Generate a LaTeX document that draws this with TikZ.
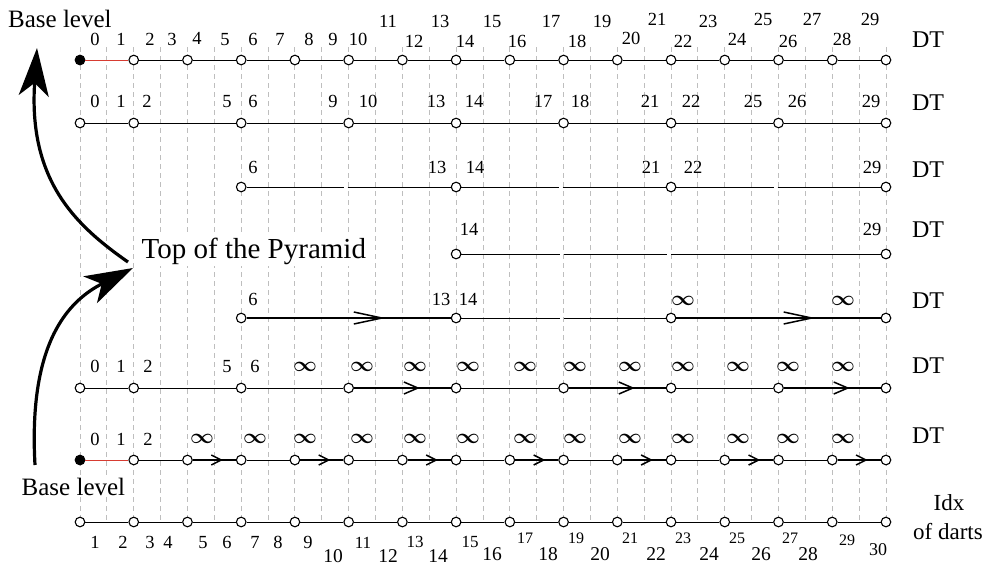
\documentclass[tikz,border=0pt]{standalone}
\usepackage{fontspec}
\setmainfont{Liberation Serif}
\usetikzlibrary{arrows.meta,decorations.markings}
\newcommand\myfs[1]{\fontsize{#1}{#1}\selectfont}
\definecolor{redl}{RGB}{215,60,50}
\definecolor{gridc}{RGB}{190,190,190}
\begin{document}
\begin{tikzpicture}[x=1pt,y=-1pt,
  gridline/.style={gridc, line width=0.9pt, dash pattern=on 5pt off 4pt},
  dot/.style={circle, draw=black, line width=1.1pt, fill=white, inner sep=0pt, minimum size=9.6pt},
  fdot/.style={dot, fill=black},
  rowline/.style={line width=0.9pt, black},
  redline/.style={line width=1pt, redl},
  thickseg/.style={draw=black, line width=2.8pt},
  arrA/.style={postaction={decorate}, decoration={markings, mark=at position 0.68 with {\arrow{Straight Barb[length=28pt,width=12pt,line width=1.5pt]}}}},
  arrB/.style={postaction={decorate}, decoration={markings, mark=at position 0.68 with {\arrow{Straight Barb[length=14pt,width=12pt,line width=1.5pt]}}}},
  arrC/.style={postaction={decorate}, decoration={markings, mark=at position 0.70 with {\arrow{Straight Barb[length=10pt,width=10pt,line width=1.5pt]}}}},
  lab/.style={anchor=base, inner sep=0pt, font=\myfs{18.5}},
  inflab/.style={anchor=base, inner sep=0pt, font=\myfs{20}\boldmath},
  dtlab/.style={anchor=base, inner sep=0pt, font=\myfs{24}},
  bigtext/.style={anchor=base west, inner sep=1.5pt, fill=white},
  bigarr/.style={line width=3.2pt, -{Stealth[length=48pt,width=30pt,inset=13pt]}}
]
\fill[white] (0,0) rectangle (987,566);
\useasboundingbox (0,0) rectangle (987,566);

% grid
\foreach \i in {0,...,30} \draw[gridline] ({80+26.865*\i},47) -- ({80+26.865*\i},522);

% row 1
\node[fdot] (r1n0) at (80,60) {};
\foreach \n in {1,...,15} \node[dot] (r1n\n) at ({80+53.73*\n},60) {};
\draw[redline] (r1n0) -- (r1n1);
\foreach \a [evaluate=\a as \b using int(\a+1)] in {1,...,14} \draw[rowline] (r1n\a) -- (r1n\b);

% row 2
\foreach \n in {0,1,3,5,7,9,11,13,15} \node[dot] (r2n\n) at ({80+53.73*\n},123) {};
\foreach \a/\b in {0/1,1/3,3/5,5/7,7/9,9/11,11/13,13/15} \draw[rowline] (r2n\a) -- (r2n\b);

% row 3
\foreach \n in {3,7,11,15} \node[dot] (r3n\n) at ({80+53.73*\n},187) {};
\foreach \g in {5,9,13} {\coordinate (r3g\g-a) at ({80+53.73*\g-5},187); \coordinate (r3g\g-b) at ({80+53.73*\g-1},187);}
\draw[rowline] (r3n3) -- (r3g5-a);
\draw[rowline] (r3g5-b) -- (r3n7);
\draw[rowline] (r3n7) -- (r3g9-a);
\draw[rowline] (r3g9-b) -- (r3n11);
\draw[rowline] (r3n11) -- (r3g13-a);
\draw[rowline] (r3g13-b) -- (r3n15);

% row 4
\foreach \n in {7,15} \node[dot] (r4n\n) at ({80+53.73*\n},254) {};
\foreach \g in {9,11} {\coordinate (r4g\g-a) at ({80+53.73*\g-4},254); \coordinate (r4g\g-b) at ({80+53.73*\g},254);}
\draw[rowline] (r4n7) -- (r4g9-a);
\draw[rowline] (r4g9-b) -- (r4g11-a);
\draw[rowline] (r4g11-b) -- (r4n15);

% row 5
\foreach \n in {3,7,11,15} \node[dot] (r5n\n) at ({80+53.73*\n},318) {};
\coordinate (r5g9-a) at ({80+53.73*9-4},318);
\coordinate (r5g9-b) at ({80+53.73*9},318);
\draw[thickseg, arrA] (r5n3) -- (r5n7);
\draw[rowline] (r5n7) -- (r5g9-a);
\draw[rowline] (r5g9-b) -- (r5n11);
\draw[thickseg, arrA] (r5n11) -- (r5n15);

% row 6
\foreach \n in {0,1,3,5,7,9,11,13,15} \node[dot] (r6n\n) at ({80+53.73*\n},388) {};
\foreach \a/\b in {0/1,1/3,3/5,7/9,11/13} \draw[rowline] (r6n\a) -- (r6n\b);
\foreach \a/\b in {5/7,9/11,13/15} \draw[thickseg, arrB] (r6n\a) -- (r6n\b);

% row 7
\node[fdot] (r7n0) at (80,460) {};
\foreach \n in {1,...,15} \node[dot] (r7n\n) at ({80+53.73*\n},460) {};
\draw[redline] (r7n0) -- (r7n1);
\foreach \a/\b in {1/2,3/4,5/6,7/8,9/10,11/12,13/14} \draw[rowline] (r7n\a) -- (r7n\b);
\foreach \a/\b in {2/3,4/5,6/7,8/9,10/11,12/13,14/15} \draw[thickseg, arrC] (r7n\a) -- (r7n\b);

% row 8
\foreach \n in {0,...,15} \node[dot] (r8n\n) at ({80+53.73*\n},522) {};
\foreach \a [evaluate=\a as \b using int(\a+1)] in {0,...,14} \draw[rowline] (r8n\a) -- (r8n\b);

% labels row 1
\foreach \x/\y/\t [count=\c] in {95/45/0,121/45/1,150/45/2,172/45/3,197/44/4,225/45/5,253/45/6,280/45/7,309/45/8,333/45/9,358/45/10,388/27/11,414/47/12,440/27/13,465/47/14,492/27/15,517/47/16,551/27/17,577/47/18,602/27/19,631/44/20,657/25/21,683/47/22,708/27/23,737/45/24,763/25/25,788/47/26,812/25/27,842/45/28,870/25/29}
  \node[lab] (la\c) at (\x,\y) {\t};
% row 2
\foreach \x/\t [count=\c] in {95/0,121/1,147/2,227/5,253/6,333/9,368/10,436/13,474/14,543/17,580/18,650/21,691/22,753/25,797/26,871/29}
  \node[lab] (lb\c) at (\x,107) {\t};
% row 3
\foreach \x/\t [count=\c] in {253/6,437/13,475/14,651/21,693/22,872/29}
  \node[lab] (lc\c) at (\x,173) {\t};
% row 4
\foreach \x/\t [count=\c] in {469/14,872/29}
  \node[lab] (ld\c) at (\x,235) {\t};
% row 5
\foreach \x/\t [count=\c] in {253/6,441/13,468/14}
  \node[lab] (le\c) at (\x,305) {\t};
\foreach \x [count=\c] in {683,843}
  \node[inflab] (lei\c) at (\x,305) {$\infty$};
% row 6
\foreach \x/\t [count=\c] in {95/0,121/1,148/2,227/5,255/6}
  \node[lab] (lf\c) at (\x,372) {\t};
\foreach \x [count=\c] in {305,362,415,468,525,575,630,683,738,788,843}
  \node[inflab] (lfi\c) at (\x,371) {$\infty$};
% row 7
\foreach \x/\t [count=\c] in {95/0,121/1,148/2}
  \node[lab] (lg\c) at (\x,445) {\t};
\foreach \x [count=\c] in {202,255,305,362,415,468,525,575,630,683,738,788,843}
  \node[inflab] (lgi\c) at (\x,443) {$\infty$};
% row 8 (index of darts)
\foreach \x/\y/\t/\s [count=\c] in {95/548/1/18.5,123/548/2/18.5,150/548/3/18.5,168/548/4/18.5,203/548/5/18.5,227/548/6/18.5,255/548/7/18.5,278/548/8/18.5,308/548/9/18.5,333/562/10/19.5,363/548/11/17,388/562/12/19.5,415/547/13/17,438/562/14/19.5,470/547/15/17,492/560/16/19.5,525/543/17/16,548/560/18/19.5,576/543/19/16,600/560/20/19.5,630/543/21/16,656/560/22/19.5,683/543/23/16,709/560/24/19.5,737/543/25/16,761/560/26/19.5,790/543/27/16,808/560/28/19.5,847/545/29/16,878/555/30/18}
  \node[lab, font=\myfs{\s}] (lh\c) at (\x,\y) {\t};

% DT labels
\foreach \y [count=\c] in {47,110,177,237,308,373,443}
  \node[dtlab] (dt\c) at (928,\y) {DT};
\node[dtlab, font=\myfs{23}] (idx1) at (949,510) {Idx};
\node[dtlab, font=\myfs{23}] (idx2) at (948,539) {of darts};

% big texts
\node[anchor=base west, inner sep=0pt, font=\myfs{25}] (basetop) at (8,27) {Base level};
\node[bigtext, font=\myfs{25}] (basebot) at (20,495) {Base level};
\node[bigtext, font=\myfs{29}] (top) at (140,258) {Top of the Pyramid};

% curved arrows
\coordinate (c1s) at (35,465);
\coordinate (c1e) at (133,268);
\draw[bigarr] (c1s) .. controls (28,340) and (70,300) .. (c1e);
\coordinate (c2s) at (128,262);
\coordinate (c2e) at (37,48);
\draw[bigarr] (c2s) .. controls (75,225) and (28,180) .. (c2e);
\end{tikzpicture}
\end{document}
